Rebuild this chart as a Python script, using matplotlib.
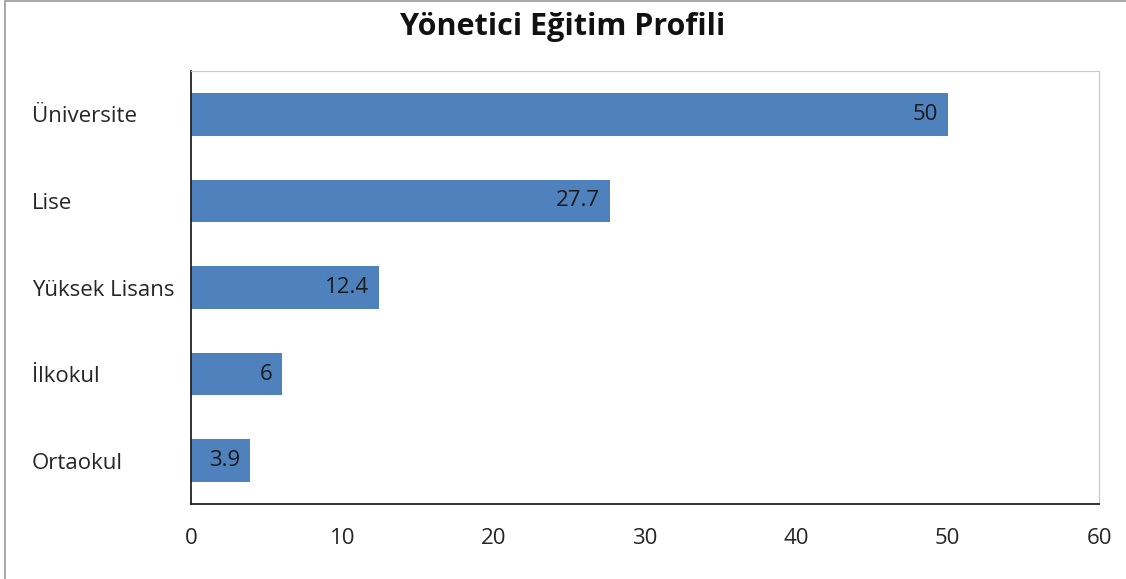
import matplotlib.pyplot as plt
from matplotlib.patches import Rectangle

# Chart data
categories = ["Üniversite", "Lise", "Yüksek Lisans", "İlkokul", "Ortaokul"]
values = [50, 27.7, 12.4, 6, 3.9]
labels = ["50", "27.7", "12.4", "6", "3.9"]
x_ticks = [0, 10, 20, 30, 40, 50, 60]

plt.rcParams["font.family"] = ["Open Sans", "DejaVu Sans"]

fig = plt.figure(figsize=(11.26, 5.79), dpi=100, facecolor="white")

# outer chart border (Excel style)
fig.patches.append(
    Rectangle((5 / 1126, -0.01), 1.02, 1.0 - 1 / 579 + 0.01 - 0.0005,
              transform=fig.transFigure, facecolor="none",
              edgecolor="#9a9a9a", linewidth=1.2)
)

ax = fig.add_axes([191 / 1126, 75 / 579, (1099 - 191) / 1126, (504 - 71) / 579])

y_pos = list(range(len(categories)))
bars = ax.barh(y_pos, values, height=0.49, color="#4F81BD", edgecolor="none")

for i, (v, lab) in enumerate(zip(values, labels)):
    ax.annotate(lab, xy=(v, i), xytext=(-7, 0), textcoords="offset points",
                ha="right", va="center", fontsize=16, color="#1a1a1a")

ax.set_yticks(y_pos)
ax.set_yticklabels(categories)
ax.set_ylim(len(categories) - 0.5, -0.5)
ax.set_xlim(0, 60)
ax.set_xticks(x_ticks)

ax.tick_params(axis="both", length=0, labelsize=16, colors="#262626")
ax.tick_params(axis="x", pad=17)
for lab in ax.get_yticklabels():
    lab.set_horizontalalignment("left")
    lab.set_x(-0.175)
ax.tick_params(axis="y", pad=0)

ax.spines["left"].set_color("#222222")
ax.spines["bottom"].set_color("#222222")
ax.spines["left"].set_linewidth(1.3)
ax.spines["bottom"].set_linewidth(1.3)
ax.spines["top"].set_color("#c8c8c8")
ax.spines["right"].set_color("#c8c8c8")

fig.text(0.5, 1 - 27 / 579, "Yönetici Eğitim Profili", ha="center", va="center",
         fontsize=22, fontweight="bold", color="#111111")

fig.savefig("out.png", dpi=100, facecolor="white")
